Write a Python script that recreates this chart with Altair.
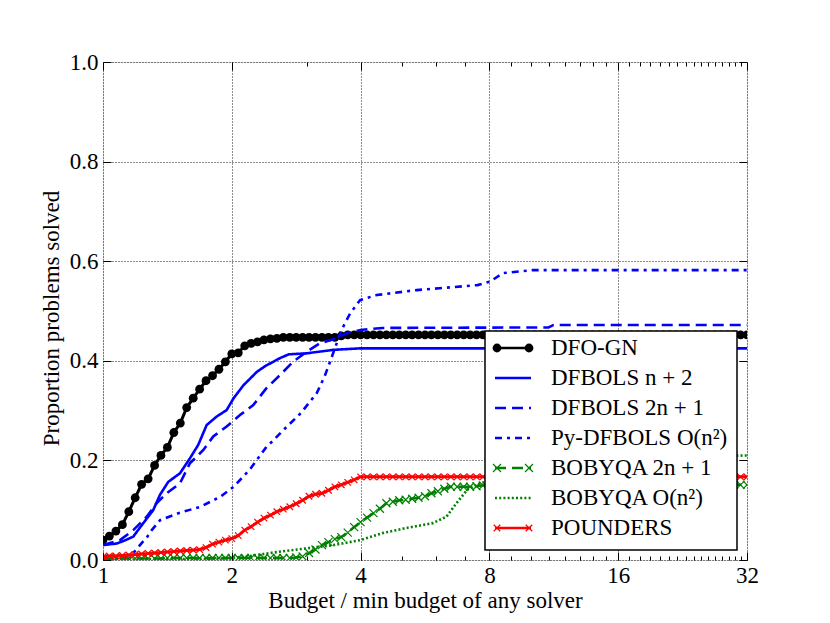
import altair as alt
import pandas as pd

# ---------------- data ----------------
SOLVERS = ["DFO-GN", "DFBOLS n+2", "DFBOLS 2n+1", "Py-DFBOLS O(n^2)",
           "BOBYQA 2n+1", "BOBYQA O(n^2)", "POUNDERS"]
LABELS = ["DFO-GN", "DFBOLS n + 2", "DFBOLS 2n + 1", "Py-DFBOLS O(n²)",
          "BOBYQA 2n + 1", "BOBYQA O(n²)", "POUNDERS"]
COLORS = ["#000000", "#0000ff", "#0000ff", "#0000ff", "#008000", "#008000", "#ff0000"]
DASHES = [[1, 0], [1, 0], [11, 6], [7, 5, 3, 5], [11, 6], [2, 2.2], [1, 0]]

X_MAJOR = [1, 2, 4, 8, 16, 32]
X_MINOR = [3, 5, 6, 7, 9, 10, 11, 12, 13, 14, 15, 17, 18, 19, 20, 21, 22, 23,
           24, 25, 26, 27, 28, 29, 30, 31]
Y_TICKS = [0.0, 0.2, 0.4, 0.6, 0.8, 1.0]

# sample points of the marker series (budget ratios)
BUDGET_GRID = [
    1.000, 1.035, 1.072, 1.110, 1.149, 1.189, 1.231, 1.275, 1.320, 1.366,
    1.414, 1.464, 1.516, 1.569, 1.625, 1.682, 1.741, 1.803, 1.866, 1.932,
    2.000, 2.071, 2.144, 2.219, 2.297, 2.378, 2.462, 2.549, 2.639, 2.732,
    2.828, 2.928, 3.031, 3.138, 3.249, 3.364, 3.482, 3.605, 3.732, 3.864,
    4.000, 4.141, 4.287, 4.438, 4.595, 4.757, 4.925, 5.099, 5.278, 5.464,
    5.657, 5.856, 6.063, 6.277, 6.498, 6.727, 6.964, 7.210, 7.464, 7.727,
    8.000, 8.282, 8.574, 8.877, 9.190, 9.514, 9.849, 10.197, 10.556, 10.928,
    11.314, 11.713, 12.126, 12.553, 12.996, 13.454, 13.929, 14.420, 14.929, 15.455,
    16.000, 16.564, 17.148, 17.753, 18.379, 19.027, 19.698, 20.393, 21.112, 21.857,
    22.627, 23.425, 24.251, 25.107, 25.992, 26.909, 27.858, 28.840, 29.857, 30.910,
    32.000]

DFO_GN = [
    0.040, 0.048, 0.058, 0.071, 0.097, 0.125, 0.152, 0.163, 0.190, 0.210,
    0.226, 0.256, 0.275, 0.306, 0.325, 0.343, 0.360, 0.370, 0.383, 0.398,
    0.414, 0.416, 0.430, 0.435, 0.438, 0.442, 0.444, 0.445, 0.447, 0.447,
    0.447, 0.447, 0.447, 0.447, 0.447, 0.447, 0.447, 0.450, 0.452, 0.452,
    0.452, 0.452, 0.452, 0.452, 0.452, 0.452, 0.452, 0.452, 0.452, 0.452,
    0.452, 0.452, 0.452, 0.452, 0.452, 0.452, 0.452, 0.452, 0.452, 0.452,
    0.452, 0.452, 0.452, 0.452, 0.452, 0.452, 0.452, 0.452, 0.452, 0.452,
    0.452, 0.452, 0.452, 0.452, 0.452, 0.452, 0.452, 0.452, 0.452, 0.452,
    0.452, 0.452, 0.452, 0.452, 0.452, 0.452, 0.452, 0.452, 0.452, 0.452,
    0.452, 0.452, 0.452, 0.452, 0.452, 0.452, 0.452, 0.452, 0.452, 0.452,
    0.452]

BOBYQA_2N1 = [
    0.002, 0.003, 0.003, 0.003, 0.003, 0.003, 0.003, 0.003, 0.003, 0.003,
    0.004, 0.004, 0.004, 0.004, 0.004, 0.004, 0.004, 0.004, 0.004, 0.004,
    0.004, 0.004, 0.004, 0.004, 0.004, 0.004, 0.004, 0.004, 0.004, 0.004,
    0.005, 0.007, 0.014, 0.021, 0.030, 0.036, 0.042, 0.046, 0.055, 0.066,
    0.076, 0.085, 0.094, 0.103, 0.114, 0.117, 0.120, 0.121, 0.123, 0.125,
    0.128, 0.134, 0.138, 0.143, 0.147, 0.147, 0.147, 0.147, 0.148, 0.150,
    0.151, 0.151, 0.151, 0.151, 0.151, 0.151, 0.151, 0.151, 0.151, 0.151,
    0.151, 0.151, 0.151, 0.151, 0.151, 0.151, 0.151, 0.151, 0.151, 0.151,
    0.151, 0.151, 0.151, 0.151, 0.151, 0.151, 0.151, 0.151, 0.151, 0.151,
    0.151, 0.151, 0.151, 0.151, 0.151, 0.151, 0.151, 0.151, 0.151, 0.151,
    0.151]

POUNDERS = [
    0.006, 0.008, 0.008, 0.009, 0.010, 0.011, 0.012, 0.013, 0.014, 0.015,
    0.016, 0.017, 0.018, 0.019, 0.020, 0.021, 0.025, 0.032, 0.036, 0.040,
    0.043, 0.049, 0.060, 0.067, 0.076, 0.084, 0.090, 0.097, 0.102, 0.107,
    0.113, 0.120, 0.128, 0.132, 0.134, 0.140, 0.147, 0.151, 0.156, 0.161,
    0.167, 0.167, 0.167, 0.167, 0.167, 0.167, 0.167, 0.167, 0.167, 0.167,
    0.167, 0.167, 0.167, 0.167, 0.167, 0.167, 0.167, 0.167, 0.167, 0.167,
    0.167, 0.167, 0.167, 0.167, 0.167, 0.167, 0.167, 0.167, 0.167, 0.167,
    0.167, 0.167, 0.167, 0.167, 0.167, 0.167, 0.167, 0.167, 0.167, 0.167,
    0.167, 0.167, 0.167, 0.167, 0.167, 0.167, 0.167, 0.167, 0.167, 0.167,
    0.167, 0.167, 0.167, 0.167, 0.167, 0.167, 0.167, 0.167, 0.167, 0.167,
    0.167]

DFBOLS_N2_X = [1.0, 1.076, 1.13, 1.177, 1.242, 1.31, 1.359, 1.421, 1.513, 1.596,
               1.669, 1.747, 1.843, 1.945, 2.02, 2.13, 2.29, 2.40, 2.50, 2.60,
               2.72, 2.99, 3.46, 3.99, 32.0]
DFBOLS_N2_Y = [0.030, 0.033, 0.040, 0.047, 0.074, 0.100, 0.131, 0.157, 0.174, 0.204,
               0.231, 0.271, 0.288, 0.301, 0.325, 0.351, 0.378, 0.390, 0.398, 0.406,
               0.413, 0.415, 0.422, 0.425, 0.425]

DFBOLS_2N1_X = [1.0, 1.096, 1.177, 1.265, 1.334, 1.409, 1.513, 1.596, 1.716, 1.81,
                1.945, 2.09, 2.245, 2.41, 2.59, 2.78, 2.99, 3.21, 3.5, 3.7,
                4.0, 4.5, 11.0, 11.3, 32.0]
DFBOLS_2N1_Y = [0.030, 0.040, 0.060, 0.087, 0.114, 0.134, 0.154, 0.194, 0.221, 0.248,
                0.268, 0.291, 0.311, 0.345, 0.371, 0.398, 0.418, 0.435, 0.445, 0.455,
                0.462, 0.466, 0.467, 0.472, 0.472]

PY_DFBOLS_X = [1.0, 1.12, 1.18, 1.22, 1.27, 1.30, 1.36, 1.50, 1.69, 1.88,
               2.02, 2.20, 2.40, 2.64, 2.90, 3.16, 3.30, 3.40, 3.50, 3.60,
               3.78, 3.99, 4.36, 5.41, 7.50, 8.03, 8.60, 10.1, 32.0]
PY_DFBOLS_Y = [0.0, 0.005, 0.015, 0.030, 0.047, 0.060, 0.080, 0.094, 0.107, 0.127,
               0.147, 0.181, 0.225, 0.261, 0.295, 0.335, 0.370, 0.400, 0.430, 0.460,
               0.495, 0.522, 0.532, 0.542, 0.552, 0.559, 0.576, 0.582, 0.582]

BOBYQA_ON2_X = [1.0, 1.9, 2.17, 2.5, 2.9, 3.46, 4.0, 4.5, 5.1, 5.9,
                6.35, 6.7, 7.1, 7.6, 9.0, 12.0, 20.0, 32.0]
BOBYQA_ON2_Y = [0.0, 0.003, 0.007, 0.015, 0.022, 0.030, 0.040, 0.054, 0.064, 0.074,
                0.087, 0.114, 0.141, 0.154, 0.170, 0.190, 0.205, 0.210]

# ---------------- build tables ----------------
series = {
    SOLVERS[0]: (BUDGET_GRID, DFO_GN),
    SOLVERS[1]: (DFBOLS_N2_X, DFBOLS_N2_Y),
    SOLVERS[2]: (DFBOLS_2N1_X, DFBOLS_2N1_Y),
    SOLVERS[3]: (PY_DFBOLS_X, PY_DFBOLS_Y),
    SOLVERS[4]: (BUDGET_GRID, BOBYQA_2N1),
    SOLVERS[5]: (BOBYQA_ON2_X, BOBYQA_ON2_Y),
    SOLVERS[6]: (BUDGET_GRID, POUNDERS),
}
rows = []
for s in SOLVERS:
    xs, ys = series[s]
    for i, (xv, yv) in enumerate(zip(xs, ys)):
        rows.append({"solver": s, "budget": xv, "prop": yv, "idx": i})
df = pd.DataFrame(rows)

leg = pd.DataFrame({"solver": SOLVERS, "label": LABELS, "row": list(range(len(SOLVERS)))})

W, H = 644, 498
FONT = "'Liberation Serif', 'Times New Roman', 'DejaVu Serif', serif"
FS = 23
CROSS = "M-1,-1L1,1M1,-1L-1,1"

xscale = alt.Scale(type="log", base=2, domain=[1, 32], nice=False)
yscale = alt.Scale(domain=[0, 1], nice=False, zero=False)
cscale = alt.Scale(domain=SOLVERS, range=COLORS)
dscale = alt.Scale(domain=SOLVERS, range=DASHES)

color_enc = alt.Color("solver:N", scale=cscale, legend=None)
dash_enc = alt.StrokeDash("solver:N", scale=dscale, legend=None)

layers = []

# ---- axes ----
main_x = alt.Axis(orient="bottom", values=X_MAJOR, format="d", ticks=False, tickSize=0,
                  domain=False, grid=True, gridColor="black", gridDash=[1, 2],
                  gridWidth=0.9, gridOpacity=1, labelFont=FONT, labelFontSize=FS,
                  labelColor="black", labelBaseline="alphabetic", labelPadding=22,
                  labelFlush=False, labelOverlap=False,
                  title="Budget / min budget of any solver", titleFont=FONT,
                  titleFontSize=FS, titleFontWeight="normal", titleColor="black",
                  titleX=W / 2, titleY=47, titleBaseline="alphabetic",
                  titleAlign="center", zindex=0)
main_y = alt.Axis(orient="left", values=Y_TICKS, format=".1f", ticks=False, tickSize=0,
                  domain=False, grid=True, gridColor="black", gridDash=[1, 2],
                  gridWidth=0.9, gridOpacity=1, labelFont=FONT, labelFontSize=FS,
                  labelColor="black", labelPadding=5, labelFlush=False,
                  labelOverlap=False, title="Proportion problems solved",
                  titleFont=FONT, titleFontSize=FS, titleFontWeight="normal",
                  titleColor="black", titleX=-45, titleY=256, titleAngle=270,
                  titleBaseline="alphabetic", titleAlign="center", zindex=0)

base = alt.Chart(df)
layers.append(base.mark_point(opacity=0).encode(
    x=alt.X("budget:Q", scale=xscale, axis=main_x)))
layers.append(base.mark_point(opacity=0).encode(
    y=alt.Y("prop:Q", scale=yscale, axis=main_y)))


def tick_axis(orient, values, size, offset):
    return alt.Axis(orient=orient, values=values, ticks=True, tickSize=size,
                    tickColor="black", tickWidth=1, labels=False, domain=False,
                    grid=False, title=None, offset=offset, zindex=1)


for orient, vals, size in [("top", X_MAJOR, 8), ("top", X_MINOR, 4),
                           ("bottom", X_MAJOR, 8), ("bottom", X_MINOR, 4)]:
    layers.append(base.mark_point(opacity=0).encode(
        x=alt.X("budget:Q", scale=xscale, axis=tick_axis(orient, vals, size, -H))))
for orient in ["left", "right"]:
    layers.append(base.mark_point(opacity=0).encode(
        y=alt.Y("prop:Q", scale=yscale, axis=tick_axis(orient, Y_TICKS, 8, -W))))

# ---- data ----
markers = {
    SOLVERS[0]: dict(shape="circle", filled=True, size=78, strokeWidth=0),
    SOLVERS[4]: dict(shape=CROSS, filled=False, size=64, strokeWidth=1.2),
    SOLVERS[6]: dict(shape=CROSS, filled=False, size=42, strokeWidth=1.2),
}
for s in SOLVERS:
    sub = base.transform_filter(alt.datum.solver == s)
    enc = dict(x=alt.X("budget:Q", scale=xscale, axis=None),
               y=alt.Y("prop:Q", scale=yscale, axis=None),
               color=color_enc)
    width = 3 if s in (SOLVERS[0], SOLVERS[6]) else 2.6
    layers.append(sub.mark_line(strokeWidth=width, clip=True).encode(
        order="idx:Q", strokeDash=dash_enc, **enc))
    if s in markers:
        layers.append(sub.mark_point(opacity=1, clip=True, **markers[s]).encode(**enc))

# ---- legend ----
legbase = alt.Chart(leg).transform_calculate(ly="286 + 30 * datum.row")
ly = alt.Y("ly:Q", scale=None, axis=None)
layers.append(alt.Chart(pd.DataFrame({"box": [0]})).mark_rect(
    fill="white", stroke="black", strokeWidth=1.5).encode(
    x=alt.value(382), x2=alt.value(634), y=alt.value(269), y2=alt.value(488)))
layers.append(legbase.mark_rule(strokeWidth=2.6).encode(
    x=alt.value(392), x2=alt.value(428), y=ly, color=color_enc, strokeDash=dash_enc))
for s, m in markers.items():
    for px in (394, 426):
        layers.append(legbase.transform_filter(alt.datum.solver == s).mark_point(
            opacity=1, **m).encode(x=alt.value(px), y=ly, color=color_enc))
layers.append(legbase.mark_text(align="left", baseline="middle", font=FONT,
                                fontSize=FS, color="black").encode(
    x=alt.value(448), y=ly, text="label:N"))

chart = alt.layer(*layers).properties(
    width=W, height=H,
    padding={"left": 95, "top": 54, "right": 60, "bottom": 54},
    autosize=alt.AutoSizeParams(type="none"),
).resolve_axis(x="independent", y="independent").configure_view(
    stroke="black", strokeWidth=1.3
).configure(font=FONT, background="white")

chart.save("out.html", embed_options={"renderer": "svg", "actions": False})
